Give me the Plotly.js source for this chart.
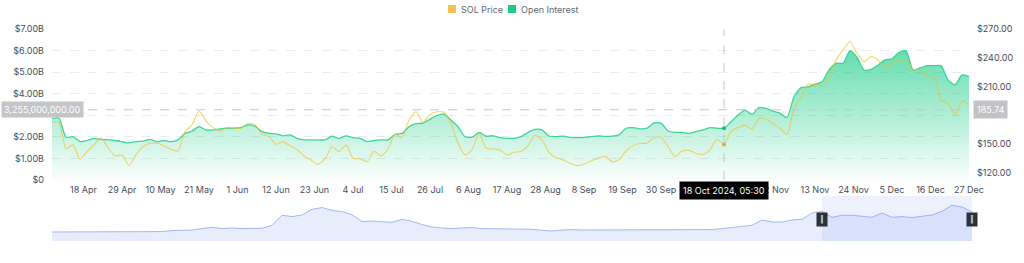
<!DOCTYPE html>
<html>
<head>
<meta charset="utf-8">
<script src="https://cdn.plot.ly/plotly-3.0.1.min.js"></script>
<style>
  html, body { margin: 0; padding: 0; background: #ffffff; }
  #chart { width: 1024px; height: 263px; }
</style>
</head>
<body>
<div id="chart"></div>
<script>
// ---------- data ----------
const startDate = '2024-04-09';   // first sample
const stepDays = 2;               // one sample every 2 days

// Open Interest, billions USD
const openInterest = [
  2.86, 2.86, 1.98, 2.01, 1.78, 1.83, 1.93, 1.88, 1.86, 1.83,
  1.78, 1.72, 1.78, 1.80, 1.88, 1.78, 1.83, 1.78, 1.86, 2.16,
  2.27, 2.47, 2.32, 2.32, 2.37, 2.40, 2.40, 2.43, 2.55, 2.50,
  2.24, 2.16, 2.14, 2.05, 2.09, 1.93, 1.86, 1.86, 1.86, 1.86,
  2.03, 1.93, 2.05, 1.96, 1.93, 1.78, 1.83, 1.86, 1.86, 2.12,
  2.16, 2.47, 2.61, 2.64, 2.82, 2.99, 3.05, 2.78, 2.47, 2.01,
  1.98, 2.21, 2.03, 2.05, 1.96, 1.93, 1.93, 2.01, 2.21, 2.35,
  2.32, 2.03, 2.01, 2.03, 1.98, 1.96, 1.98, 2.01, 2.05, 2.02,
  2.03, 2.09, 2.40, 2.43, 2.37, 2.40, 2.65, 2.64, 2.27, 2.21,
  2.21, 2.16, 2.24, 2.32, 2.43, 2.40, 2.40, 2.70, 3.01, 3.24,
  3.04, 3.36, 3.32, 3.19, 3.09, 2.90, 3.86, 4.28, 4.31, 4.44,
  4.55, 5.10, 5.41, 5.41, 6.00, 5.69, 5.10, 5.13, 5.33, 5.57,
  5.62, 5.91, 6.00, 5.10, 5.20, 5.30, 5.30, 5.30, 4.64, 4.41,
  4.87, 4.80
];

// SOL price, USD
const solPrice = [
  173.0, 172.5, 145.0, 149.0, 134.0, 142.0, 149.0, 156.5, 146.0, 137.5,
  138.5, 127.5, 138.5, 147.0, 150.6, 150.6, 148.0, 144.4, 142.6, 162.8,
  169.7, 184.3, 173.9, 167.3, 163.5, 167.3, 166.3, 166.3, 171.4, 170.4,
  160.0, 157.6, 149.6, 152.4, 148.0, 144.0, 137.5, 133.0, 128.7, 134.3,
  147.1, 141.9, 149.0, 135.0, 134.3, 131.5, 142.2, 137.5, 144.7, 160.0,
  156.5, 175.0, 183.6, 172.5, 180.8, 183.6, 183.0, 171.4, 150.6, 138.5,
  143.7, 161.0, 145.4, 144.7, 143.7, 138.5, 141.2, 142.0, 148.2, 159.0,
  154.2, 141.2, 135.7, 133.3, 129.8, 127.3, 128.7, 132.2, 135.0, 137.0,
  131.5, 133.3, 142.6, 148.2, 150.6, 150.6, 156.5, 157.2, 147.1, 136.7,
  142.6, 143.3, 140.0, 139.0, 143.7, 155.0, 149.6, 162.8, 167.0, 169.6,
  165.5, 176.6, 175.9, 171.4, 166.2, 159.5, 187.1, 198.9, 212.0, 212.3,
  211.0, 220.3, 238.0, 248.0, 256.9, 244.7, 235.9, 241.2, 237.6, 229.0,
  234.0, 237.3, 237.3, 227.2, 227.9, 222.0, 220.3, 195.8, 192.4, 180.1,
  194.8, 190.6
];

// Navigator (overview) series, relative height
const navigatorValues = [
  9.0, 9.0, 9.0, 9.0, 8.7, 8.7, 8.7, 8.7, 8.7, 8.7,
  9.0, 9.4, 10.4, 10.4, 11.0, 12.4, 13.7, 12.4, 13.0, 12.4,
  12.4, 12.7, 15.7, 25.7, 24.4, 26.0, 31.7, 33.4, 30.7, 29.4,
  26.4, 19.4, 20.0, 19.4, 18.7, 21.7, 19.7, 16.4, 14.0, 13.0,
  12.4, 13.0, 13.4, 12.4, 12.4, 12.4, 12.4, 12.4, 11.7, 10.7,
  10.0, 11.0, 11.4, 11.0, 11.0, 11.4, 11.7, 11.4, 11.4, 11.4,
  11.7, 11.7, 11.7, 11.4, 11.0, 11.0, 11.4, 12.4, 13.4, 14.7,
  15.7, 21.0, 19.0, 19.0, 21.0, 21.7, 28.0, 29.7, 23.7, 25.7,
  25.7, 24.7, 23.7, 28.0, 23.7, 24.4, 23.4, 24.7, 26.0, 29.7,
  35.7, 34.0, 29.0
];
const navigatorSelection = [77, 92];   // selected window (navigator index)

// x-axis ticks (11 Oct and 22 Oct sit under the hover date box in the reference)
const tickDates = ['2024-04-18','2024-04-29','2024-05-10','2024-05-21','2024-06-01','2024-06-12',
  '2024-06-23','2024-07-04','2024-07-15','2024-07-26','2024-08-06','2024-08-17','2024-08-28',
  '2024-09-08','2024-09-19','2024-09-30','2024-11-02','2024-11-13',
  '2024-11-24','2024-12-05','2024-12-16','2024-12-27'];
const tickText = ['18 Apr','29 Apr','10 May','21 May','1 Jun','12 Jun','23 Jun','4 Jul','15 Jul',
  '26 Jul','6 Aug','17 Aug','28 Aug','8 Sep','19 Sep','30 Sep','2 Nov','13 Nov',
  '24 Nov','5 Dec','16 Dec','27 Dec'];

// left axis ticks (billions); the $3.00B label is covered by the crosshair box in the reference
const oiTickVals = [0, 1, 2, 3, 4, 5, 6, 7];
const oiTickText = ['$0', '$1.00B', '$2.00B', '', '$4.00B', '$5.00B', '$6.00B', '$7.00B'];
// right axis ticks ($180.00 is covered by the crosshair price box in the reference)
const priceTickVals = [120, 150, 210, 240, 270];
const priceTickText = ['$120.00', '$150.00', '$210.00', '$240.00', '$270.00'];

// crosshair state
const hoverDate = '2024-10-18';
const hoverLabel = '18 Oct 2024, 05:30';
const crosshairOI = 3.255;       // billions
const crosshairPrice = 185.74;

const seriesNames = ['SOL Price', 'Open Interest'];
const seriesColors = ['#F3C24F', '#1DCB88'];

// ---------- build ----------
const t0 = Date.parse(startDate + 'T00:00:00Z');
const dates = openInterest.map((_, i) =>
  new Date(t0 + i * stepDays * 86400000).toISOString().slice(0, 10));
const navIndex = navigatorValues.map((_, i) => i);
const hi = dates.indexOf(hoverDate);

const FONT = 'Inter, "Noto Sans", Roboto, sans-serif';
const TXT = '#474D57';

// pixel layout helpers (layout only)
const W = 1024, H = 263, ML = 52, MR = 52, MT = 29, MB = 22;
const PW = W - ML - MR, PH = H - MT - MB;
const px = x => (x - ML) / PW;
const py = y => (H - MB - y) / PH;
const mainBottom = 180, mainRight = 969;

const traces = [
  {
    x: dates, y: openInterest, type: 'scatter', mode: 'lines',
    name: seriesNames[1], xaxis: 'x', yaxis: 'y',
    line: { color: 'rgba(40,210,145,0.9)', width: 1.3, shape: 'spline', smoothing: 0.6 },
    fill: 'tozeroy',
    fillgradient: {
      type: 'vertical', start: 0, stop: 6.2,
      colorscale: [[0, 'rgba(14,203,129,0.02)'], [1, 'rgba(14,203,129,0.66)']]
    },
    hoverinfo: 'skip', showlegend: false
  },
  {
    x: dates, y: solPrice, type: 'scatter', mode: 'lines',
    name: seriesNames[0], xaxis: 'x', yaxis: 'y2',
    line: { color: 'rgba(243,190,40,0.68)', width: 1.1, shape: 'spline', smoothing: 0.6 },
    hoverinfo: 'skip', showlegend: false
  },
  {
    x: [dates[hi]], y: [openInterest[hi]], type: 'scatter', mode: 'markers',
    xaxis: 'x', yaxis: 'y', marker: { color: '#1DB880', size: 4 },
    hoverinfo: 'skip', showlegend: false
  },
  {
    x: [dates[hi]], y: [solPrice[hi]], type: 'scatter', mode: 'markers',
    xaxis: 'x', yaxis: 'y2', marker: { color: '#E0A830', size: 4 },
    hoverinfo: 'skip', showlegend: false
  },
  {
    x: navIndex, y: navigatorValues, type: 'scatter', mode: 'lines',
    xaxis: 'x2', yaxis: 'y3',
    line: { color: '#A3B8F3', width: 1 },
    fill: 'tozeroy', fillcolor: '#E8EDFB',
    hoverinfo: 'skip', showlegend: false
  }
];

const layout = {
  width: W, height: H,
  margin: { l: ML, r: MR, t: MT, b: MB, pad: 0 },
  paper_bgcolor: '#ffffff', plot_bgcolor: 'rgba(0,0,0,0)',
  font: { family: FONT, size: 9, color: TXT },
  showlegend: false,
  xaxis: {
    type: 'date', domain: [0, px(mainRight)], anchor: 'y',
    range: [dates[0], dates[dates.length - 1]],
    tickvals: tickDates, ticktext: tickText,
    showgrid: false, zeroline: false, showline: false, ticks: '',
    tickfont: { family: FONT, size: 9, color: TXT },
    ticklabelstandoff: 3, fixedrange: true
  },
  yaxis: {
    domain: [py(mainBottom), 1], range: [0, 7],
    tickvals: oiTickVals, ticktext: oiTickText,
    showgrid: true, gridcolor: '#E9EBEE', griddash: 'dash', gridwidth: 1,
    zeroline: false, showline: false, ticks: '',
    tickfont: { family: FONT, size: 9, color: TXT },
    ticklabelstandoff: 7, fixedrange: true
  },
  yaxis2: {
    overlaying: 'y', side: 'right', anchor: 'x',
    range: [112.3, 270], tickvals: priceTickVals, ticktext: priceTickText,
    showgrid: false, zeroline: false, showline: false, ticks: '',
    tickfont: { family: FONT, size: 9, color: TXT },
    ticklabelstandoff: 7, fixedrange: true
  },
  xaxis2: {
    domain: [0, 1], anchor: 'y3', range: [0, navigatorValues.length - 1],
    visible: false, fixedrange: true
  },
  yaxis3: {
    domain: [0, py(196)], range: [0, 45], visible: false, fixedrange: true
  },
  shapes: [
    // navigator selection window
    { type: 'rect', xref: 'x2', yref: 'paper',
      x0: navigatorSelection[0], x1: navigatorSelection[1], y0: 0, y1: py(196),
      fillcolor: 'rgba(110,140,245,0.12)', line: { width: 0 }, layer: 'above' },
    // crosshair vertical
    { type: 'line', xref: 'x', yref: 'paper', x0: hoverDate, x1: hoverDate,
      y0: py(mainBottom), y1: 1, line: { color: '#C3C7CD', width: 1, dash: 'dash' } },
    // crosshair horizontal
    { type: 'line', xref: 'paper', yref: 'y', x0: 0, x1: px(mainRight),
      y0: crosshairOI, y1: crosshairOI, line: { color: '#C3C7CD', width: 1, dash: 'dash' } },
    // legend swatches
    { type: 'rect', xref: 'paper', yref: 'paper', x0: px(448), x1: px(456), y0: py(13), y1: py(5),
      fillcolor: seriesColors[0], line: { width: 0 } },
    { type: 'rect', xref: 'paper', yref: 'paper', x0: px(508), x1: px(516), y0: py(13), y1: py(5),
      fillcolor: seriesColors[1], line: { width: 0 } }
  ],
  annotations: [
    { xref: 'paper', yref: 'paper', x: px(459), y: py(9), xanchor: 'left', yanchor: 'middle',
      text: seriesNames[0], showarrow: false, font: { family: FONT, size: 9, color: '#5E6673' } },
    { xref: 'paper', yref: 'paper', x: px(519), y: py(9), xanchor: 'left', yanchor: 'middle',
      text: seriesNames[1], showarrow: false, font: { family: FONT, size: 9, color: '#5E6673' } },
    // crosshair labels
    { xref: 'paper', yref: 'y', x: px(1), y: crosshairOI, xanchor: 'left', yanchor: 'middle',
      text: (crosshairOI * 1e9).toLocaleString('en-US', { minimumFractionDigits: 2, maximumFractionDigits: 2 }),
      showarrow: false, bgcolor: 'rgba(190,192,196,0.92)', borderpad: 2,
      font: { family: FONT, size: 9, color: '#ffffff' } },
    { xref: 'paper', yref: 'y2', x: px(973), y: crosshairPrice, xanchor: 'left', yanchor: 'middle',
      text: crosshairPrice.toFixed(2), showarrow: false, bgcolor: 'rgba(190,192,196,0.95)', borderpad: 3,
      font: { family: FONT, size: 9, color: '#ffffff' } },
    { xref: 'x', yref: 'paper', x: hoverDate, y: py(190), xanchor: 'center', yanchor: 'middle',
      text: hoverLabel, showarrow: false, bgcolor: '#000000', borderpad: 3,
      font: { family: FONT, size: 9, color: '#ffffff' } },
    // navigator handles
    { xref: 'x2', yref: 'paper', x: navigatorSelection[0], y: py(219), xanchor: 'center', yanchor: 'middle',
      text: '‖', showarrow: false, bgcolor: '#2B3139', borderpad: 1, width: 8, height: 11,
      font: { family: FONT, size: 7, color: '#ffffff' } },
    { xref: 'x2', yref: 'paper', x: navigatorSelection[1], y: py(219), xanchor: 'center', yanchor: 'middle',
      text: '‖', showarrow: false, bgcolor: '#2B3139', borderpad: 1, width: 8, height: 11,
      font: { family: FONT, size: 7, color: '#ffffff' } }
  ]
};

Plotly.newPlot('chart', traces, layout, { displayModeBar: false, staticPlot: true });
</script>
</body>
</html>
